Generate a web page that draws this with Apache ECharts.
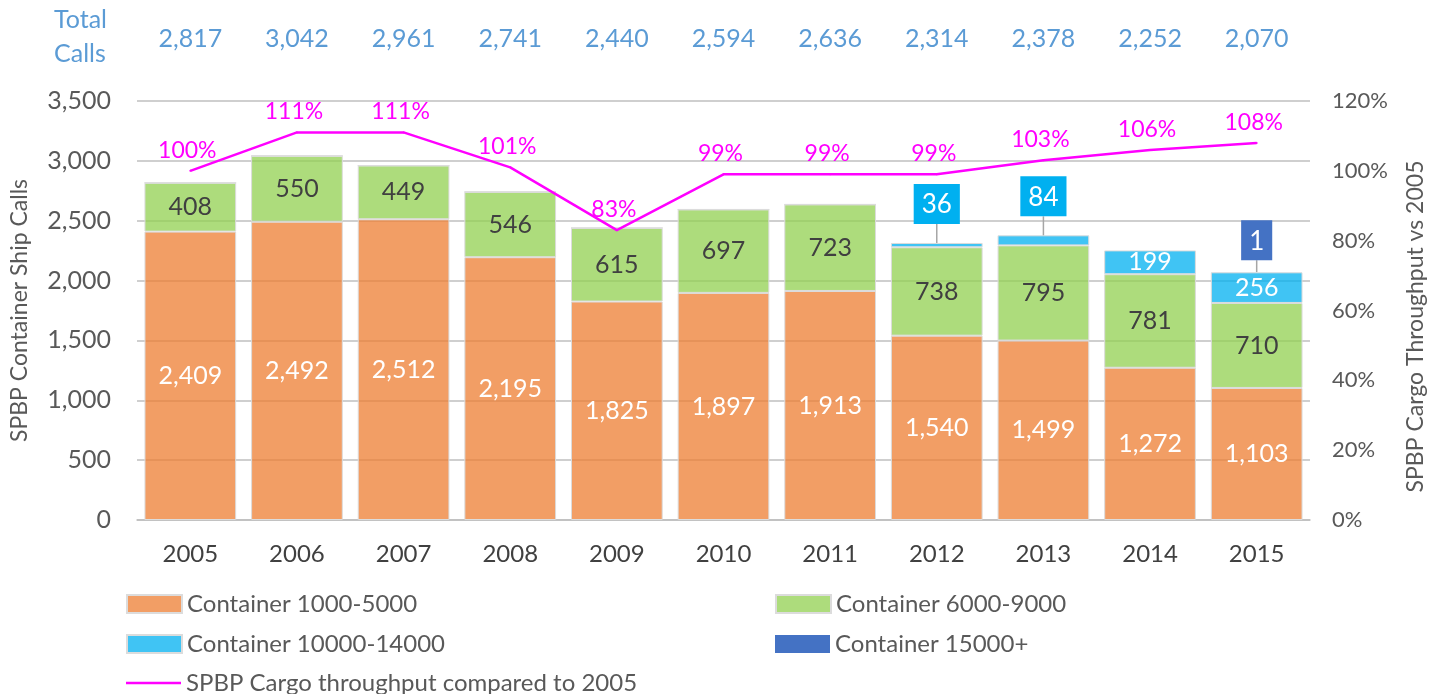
<!DOCTYPE html>
<html>
<head>
<meta charset="utf-8">
<script src="https://cdn.jsdelivr.net/npm/echarts@6/dist/echarts.min.js"></script>
<style>
  html, body { margin: 0; padding: 0; background: #fff; }
  #chart { width: 1441px; height: 694px; }
</style>
</head>
<body>
<div id="chart"></div>
<script>
const years = ['2005', '2006', '2007', '2008', '2009', '2010', '2011', '2012', '2013', '2014', '2015'];
const small = [2409, 2492, 2512, 2195, 1825, 1897, 1913, 1540, 1499, 1272, 1103];
const medium = [408, 550, 449, 546, 615, 697, 723, 738, 795, 781, 710];
const large = [0, 0, 0, 0, 0, 0, 0, 36, 84, 199, 256];
const ultra = [0, 0, 0, 0, 0, 0, 0, 0, 0, 0, 1];
const totals = [2817, 3042, 2961, 2741, 2440, 2594, 2636, 2314, 2378, 2252, 2070];
const throughput = [100, 111, 111, 101, 83, 99, 99, 99, 103, 106, 108];

const FONT = 'Lato';
const fmt = v => v.toLocaleString('en-US');

const chart = echarts.init(document.getElementById('chart'));

// small values get a boxed callout above the bar
const calloutIdx = [7, 8];

const callout = bg => ({
    show: true,
    position: 'top',
    distance: 0,
    backgroundColor: bg,
    padding: [8, 8, 6, 8],
    color: '#fff',
    fontSize: 26,
    fontFamily: FONT
});

const option = {
    animation: false,
    textStyle: { fontFamily: FONT },
    graphic: [{
        type: 'text',
        left: 54,
        top: 3,
        style: {
            text: 'Total\nCalls',
            fill: '#5B9BD5',
            font: '25px ' + FONT,
            align: 'right',
            lineHeight: 34
        }
    }],
    grid: { left: 135, right: 131, top: 101, bottom: 174 },
    legend: [
        { data: ['Container 1000-5000'], left: 121, top: 587 },
        { data: ['Container 6000-9000'], left: 770, top: 587 },
        { data: ['Container 10000-14000'], left: 121, top: 627 },
        { data: ['Container 15000+'], left: 770, top: 627 },
        { data: ['SPBP Cargo throughput compared to 2005'], left: 121, top: 666, itemHeight: 2.5 }
    ].map(l => Object.assign({
        icon: 'rect',
        itemWidth: 55,
        itemHeight: 18,
        itemGap: 6,
        textStyle: { color: '#595959', fontSize: 24, fontFamily: FONT }
    }, l)),
    xAxis: [
        {
            type: 'category',
            data: years,
            axisLine: { lineStyle: { color: '#BFBFBF', width: 1.5 } },
            axisTick: { show: false },
            axisLabel: { color: '#404040', fontSize: 24, margin: 22, fontFamily: FONT }
        },
        {
            type: 'category',
            position: 'top',
            data: totals.map(fmt),
            axisLine: { show: false },
            axisTick: { show: false },
            axisLabel: { color: '#5B9BD5', fontSize: 25, margin: 50, fontFamily: FONT }
        }
    ],
    yAxis: [
        {
            type: 'value',
            min: 0,
            max: 3500,
            interval: 500,
            name: 'SPBP Container Ship Calls',
            nameLocation: 'middle',
            nameGap: 106,
            nameTextStyle: { color: '#595959', fontSize: 23, fontFamily: FONT },
            axisLabel: { color: '#595959', fontSize: 25, margin: 26, formatter: v => fmt(v), fontFamily: FONT },
            splitLine: { lineStyle: { color: '#BFBFBF', width: 1.5 } }
        },
        {
            type: 'value',
            min: 0,
            max: 120,
            interval: 20,
            name: 'SPBP Cargo Throughput vs 2005',
            nameLocation: 'middle',
            nameGap: 94,
            nameRotate: 90,
            nameTextStyle: { color: '#595959', fontSize: 23, fontFamily: FONT, padding: [0, 32, 0, 0] },
            axisLabel: { color: '#595959', fontSize: 22, margin: 22, formatter: '{value}%', fontFamily: FONT },
            splitLine: { show: false }
        }
    ],
    series: [
        {
            name: 'Container 1000-5000',
            type: 'bar',
            stack: 'calls',
            barCategoryGap: '14%',
            data: small,
            itemStyle: { color: 'rgba(237,125,49,0.75)', borderColor: '#dcdcdc', borderWidth: 1 },
            label: { show: true, position: 'inside', color: '#fff', fontSize: 25, formatter: p => fmt(p.value), fontFamily: FONT }
        },
        {
            name: 'Container 6000-9000',
            type: 'bar',
            stack: 'calls',
            data: medium,
            itemStyle: { color: 'rgba(146,208,80,0.75)', borderColor: '#dcdcdc', borderWidth: 1 },
            label: { show: true, position: 'inside', color: '#404040', fontSize: 25, formatter: p => fmt(p.value), fontFamily: FONT }
        },
        {
            name: 'Container 10000-14000',
            type: 'bar',
            stack: 'calls',
            data: large.map((v, i) => {
                if (v === 0) return { value: v, label: { show: false } };
                if (calloutIdx.includes(i)) return { value: v, label: callout('#00B0F0') };
                return { value: v, label: { show: true, position: 'inside', color: '#fff', fontSize: 25, fontFamily: FONT } };
            }),
            labelLayout: p => (calloutIdx.includes(p.dataIndex) ? { dy: -19 } : {}),
            labelLine: { show: true, lineStyle: { color: '#A6A6A6', width: 1.5 } },
            itemStyle: { color: 'rgba(0,176,240,0.75)', borderColor: '#dcdcdc', borderWidth: 1 }
        },
        {
            name: 'Container 15000+',
            type: 'bar',
            stack: 'calls',
            data: ultra.map(v => ({
                value: v,
                label: v === 0 ? { show: false } : callout('#4472C4')
            })),
            labelLayout: p => (p.dataIndex === 10 ? { dy: -12 } : {}),
            labelLine: { show: true, lineStyle: { color: '#A6A6A6', width: 1.5 } },
            itemStyle: { color: '#4472C4' }
        },
        {
            name: 'SPBP Cargo throughput compared to 2005',
            type: 'line',
            yAxisIndex: 1,
            data: throughput,
            symbol: 'circle',
            symbolSize: 2,
            showSymbol: true,
            color: '#FF00FF',
            itemStyle: { color: '#FF00FF' },
            lineStyle: { color: '#FF00FF', width: 2.5 },
            label: { show: true, position: 'top', distance: 8, offset: [-3, 0], color: '#FF00FF', fontSize: 23, formatter: '{c}%', fontFamily: FONT },
            z: 5
        }
    ]
};

chart.setOption(option);
window.addEventListener('resize', () => chart.resize());
</script>
</body>
</html>
